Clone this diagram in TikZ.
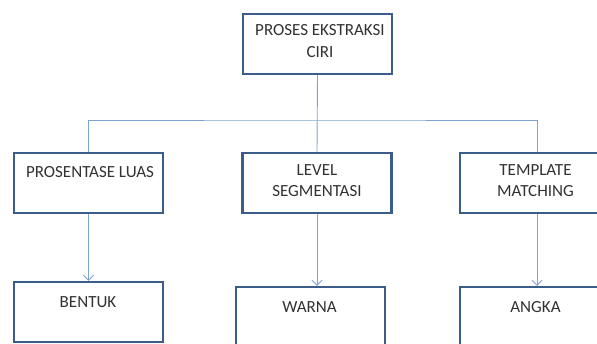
\documentclass[tikz,border=0pt]{standalone}
\usepackage{fontspec}
\setmainfont{Carlito}
\usetikzlibrary{arrows.meta}
\definecolor{tepi}{RGB}{58,93,140}
\definecolor{garisbiru}{RGB}{125,163,212}
\definecolor{tulisan}{RGB}{50,50,50}
\tikzset{
	kotak/.style={draw=tepi, line width=2.4pt, fill=white, minimum width=149pt, minimum height=60pt, inner sep=0pt},
	teks/.style={align=center, text=tulisan, inner sep=0pt, font=\fontsize{17}{21.5}\selectfont},
	garis/.style={draw=garisbiru, line width=0.9pt},
	panah/.style={garis, -{Straight Barb[length=5pt,width=10pt]}}
}
\begin{document}
\begin{tikzpicture}[x=1pt, y=-1pt]
	\useasboundingbox (0,0) rectangle (597,343);
	\clip (0,0) rectangle (597,343);
	
	%Kotak
	\node[kotak] (ciri) at (317.5,44) {};
	\node[kotak] (luas) at (88.5,183) {};
	\node[kotak] (level) at (317,183) {};
	\node[kotak, minimum width=154pt] (template) at (537,183) {};
	\node[kotak] (bentuk) at (88.5,312) {};
	\node[kotak] (warna) at (310.5,317) {};
	\node[kotak, minimum width=154pt] (angka) at (537,317) {};
	
	%Tulisan
	\node[teks] (tciri) at (320,41) {PROSES EKSTRAKSI\\CIRI};
	\node[teks] (tluas) at (90,172) {PROSENTASE LUAS};
	\node[teks] (tlevel) at (317,180.5) {LEVEL\\SEGMENTASI};
	\node[teks] (ttemplate) at (535.5,180.5) {TEMPLATE\\MATCHING};
	\node[teks] (tbentuk) at (88,302) {BENTUK};
	\node[teks] (twarna) at (309.5,307) {WARNA};
	\node[teks] (tangka) at (535.5,307) {ANGKA};
	
	%Cabang
	\coordinate (cabang) at (317,120);
	\draw[garis] (ciri.south) -- (level.north);
	\draw[garis] (luas.north) |- (cabang) -| (template.north);
	
	%Panah
	\draw[panah] (luas.south) -- (bentuk.north);
	\draw[panah] (level.south) -- (level.south |- warna.north);
	\draw[panah] (template.south) -- (angka.north);
\end{tikzpicture}
\end{document}
